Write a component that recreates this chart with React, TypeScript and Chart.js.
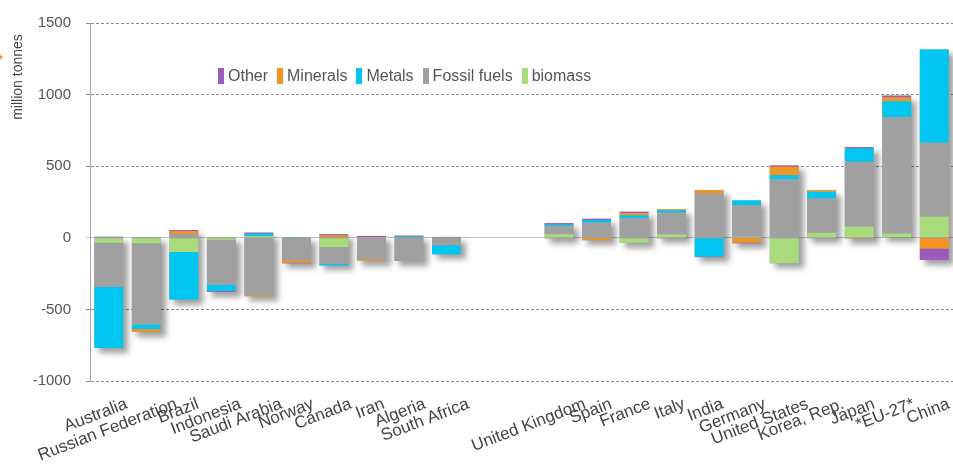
import React, { useEffect, useRef } from "react";
import { Chart, registerables } from "chart.js";

Chart.register(...registerables);

const categories = [
  "Australia", "Russian Federation", "Brazil", "Indonesia", "Saudi Arabia", "Norway",
  "Canada", "Iran", "Algeria", "South Africa", "", "",
  "United Kingdom", "Spain", "France", "Italy", "India", "Germany",
  "United States", "Korea, Rep.", "Japan", "*EU-27*", "China",
];

const biomass = [-35, -38, -99, -15, 12, 0, -65, 5, 0, 0, null, null, 25, 0, -33, 25, 0, 8, -178, 35, 78, 30, 148];
const fossilFuels = [-308, -567, 24, -314, -401, -157, -116, -150, -162, -52, null, null, 58, 106, 136, 151, 310, 220, 410, 239, 453, 814, 516];
const metals = [-427, -33, -332, -42, 17, 5, -12, 0, 9, -63, null, null, 10, 18, 21, 16, -131, 33, 28, 47, 93, 109, 651];
const minerals = [0, -19, 23, 3, -7, -16, 17, -9, 0, 0, null, null, -4, -17, 16, 7, 23, -33, 58, 11, -5, 28, -75];
const other = [7, 3, 7, -7, 7, -5, 8, 8, 6, 6, null, null, 9, 9, 9, -4, -4, -5, 9, -3, 9, 12, -80];

const yMin = -1000;
const yMax = 1500;
const yStep = 500;

const COLORS = {
  other: "#9b5bbb",
  minerals: "#f39321",
  metals: "#00c6f1",
  fossil: "#a0a0a0",
  biomass: "#a9da7b",
};

const legendItems = [
  { label: "Other", color: COLORS.other },
  { label: "Minerals", color: COLORS.minerals },
  { label: "Metals", color: COLORS.metals },
  { label: "Fossil fuels", color: COLORS.fossil },
  { label: "biomass", color: COLORS.biomass },
];

const FONT = "'Liberation Sans', Arial, Helvetica, sans-serif";
const X_FONT_SIZE = 17;

export default function App() {
  const ref = useRef<HTMLCanvasElement>(null);

  useEffect(() => {
    const measureCtx = document.createElement("canvas").getContext("2d")!;
    measureCtx.font = `${X_FONT_SIZE}px ${FONT}`;
    const labelWidth = (s: string) => (s ? measureCtx.measureText(s).width : 0);

    const shadowPlugin = {
      id: "barShadow",
      beforeDatasetsDraw(chart: any) {
        const ctx = chart.ctx;
        const n = chart.data.labels.length;
        ctx.save();
        for (let i = 0; i < n; i++) {
          let top = Infinity, bottom = -Infinity, left = 0, width = 0;
          chart.data.datasets.forEach((ds: any, di: number) => {
            const v = ds.data[i];
            if (v === null || v === 0) return;
            const el: any = chart.getDatasetMeta(di).data[i];
            if (!el) return;
            top = Math.min(top, el.y, el.base);
            bottom = Math.max(bottom, el.y, el.base);
            left = el.x - el.width / 2;
            width = el.width;
          });
          if (!isFinite(top)) continue;
          ctx.shadowColor = "rgba(0,0,0,0.38)";
          ctx.shadowBlur = 6;
          ctx.shadowOffsetX = 5;
          ctx.shadowOffsetY = 5;
          ctx.fillStyle = "#a0a0a0";
          ctx.fillRect(left, top, width, bottom - top);
        }
        ctx.restore();
      },
    };

    // shift each rotated x label to the right, a bit more for longer labels
    const labelShiftPlugin = {
      id: "labelShift",
      beforeDraw(chart: any) {
        const sc = chart.scales.x;
        if (!sc || !sc.getLabelItems) return;
        const items = sc.getLabelItems();
        items.forEach((it: any) => {
          if (it._shifted) return;
          it._shifted = true;
          const txt = Array.isArray(it.label) ? it.label.join(" ") : String(it.label || "");
          it.options.translation[0] += 8 + 0.15 * labelWidth(txt);
        });
      },
    };

    const decorPlugin = {
      id: "decor",
      afterDraw(chart: any) {
        const ctx = chart.ctx;
        ctx.save();
        ctx.fillStyle = "#f39321";
        ctx.beginPath();
        ctx.moveTo(-5, 50);
        ctx.lineTo(3, 57);
        ctx.lineTo(-5, 64);
        ctx.closePath();
        ctx.fill();
        ctx.translate(18, 77);
        ctx.rotate(-Math.PI / 2);
        ctx.fillStyle = "#444";
        ctx.font = `14px ${FONT}`;
        ctx.textAlign = "center";
        ctx.textBaseline = "middle";
        ctx.fillText("million tonnes", 0, 0);
        ctx.restore();
      },
    };

    const mk = (label: string, data: (number | null)[], color: string) => ({
      label,
      data,
      backgroundColor: color,
      borderWidth: 0,
      barPercentage: 0.77,
      categoryPercentage: 1,
    });

    const chart = new Chart(ref.current!, {
      type: "bar",
      data: {
        labels: categories,
        datasets: [
          mk("biomass", biomass, COLORS.biomass),
          mk("Fossil fuels", fossilFuels, COLORS.fossil),
          mk("Metals", metals, COLORS.metals),
          mk("Minerals", minerals, COLORS.minerals),
          mk("Other", other, COLORS.other),
        ],
      },
      options: {
        animation: false,
        responsive: true,
        maintainAspectRatio: false,
        layout: { padding: { top: 23, left: 0, right: 0, bottom: 0 } },
        plugins: {
          legend: { display: false },
          tooltip: { enabled: false },
        },
        scales: {
          x: {
            stacked: true,
            grid: { display: false, drawTicks: false },
            border: { display: false },
            ticks: {
              autoSkip: false,
              maxRotation: 21,
              minRotation: 21,
              labelOffset: 0,
              padding: 13,
              color: "#444",
              font: { family: FONT, size: X_FONT_SIZE },
            },
            afterFit: (scale: any) => {
              scale.height = 84;
              scale.paddingLeft = 0;
              scale.paddingRight = 0;
            },
          },
          y: {
            stacked: true,
            min: yMin,
            max: yMax,
            ticks: {
              stepSize: yStep,
              padding: 15,
              color: "#555",
              font: { family: FONT, size: 15 },
              callback: (v: any) => String(v),
            },
            grid: {
              color: (c: any) => (c.tick && c.tick.value === 0 ? "#c4c4c4" : "#8c8c8c"),
              lineWidth: 1,
              tickLength: 4,
              drawTicks: true,
            },
            border: {
              display: true,
              color: "#a8a8a8",
              width: 1,
              dash: (c: any) => (c.type === "tick" && c.tick && c.tick.value !== 0 ? [3, 2] : []),
            },
            afterFit: (scale: any) => {
              scale.width = 90;
              scale.paddingTop = 0;
              scale.paddingBottom = 0;
            },
          },
        },
      } as any,
      plugins: [shadowPlugin, labelShiftPlugin, decorPlugin],
    });
    return () => chart.destroy();
  }, []);

  return (
    <div style={{ position: "absolute", left: 0, top: 0, width: 953, height: 465, background: "#fff", overflow: "hidden" }}>
      <canvas ref={ref} />
      <div
        style={{
          position: "absolute",
          left: 218,
          top: 66,
          height: 20,
          display: "flex",
          alignItems: "center",
          fontFamily: FONT,
          fontSize: 16,
          color: "#555",
          whiteSpace: "nowrap",
        }}
      >
        {legendItems.map((it) => (
          <div key={it.label} style={{ display: "flex", alignItems: "center", marginRight: 9 }}>
            <span style={{ display: "inline-block", width: 6, height: 16, background: it.color, marginRight: 4 }} />
            <span>{it.label}</span>
          </div>
        ))}
      </div>
    </div>
  );
}
